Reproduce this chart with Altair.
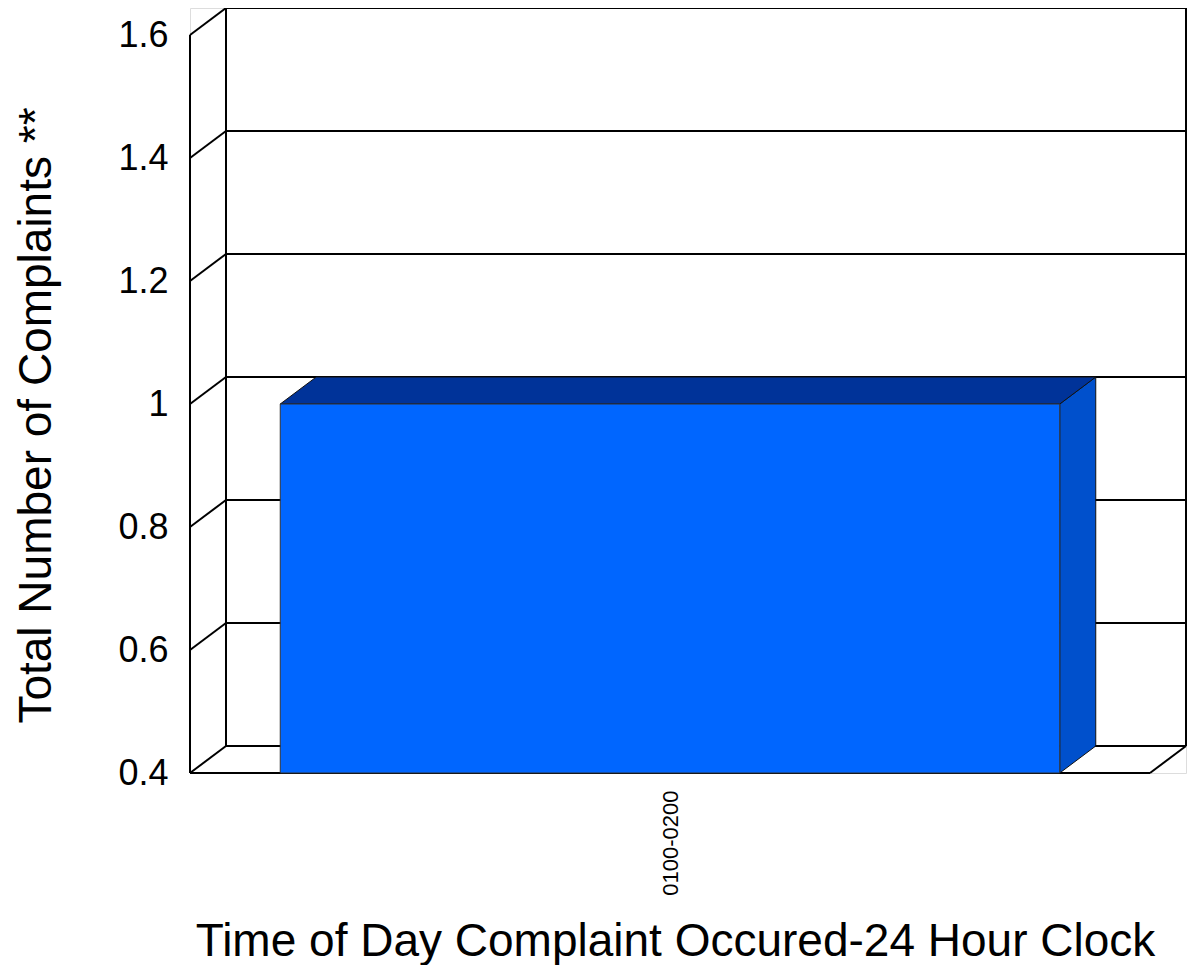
import json
import altair as alt
import pandas as pd

# ---- data ----
categories = ["0100-0200"]
values = [1]
y_ticks = [0.4, 0.6, 0.8, 1.0, 1.2, 1.4, 1.6]

# ---- layout / style ----
Y_MIN, Y_MAX = 0.4, 1.6
FRONT_W, FRONT_H = 960, 738      # front plane size in px
DEPTH_X, DEPTH_Y = 36, 27        # 3D depth offset in px
BAR_PAD = 0.094                  # band padding fraction on each side
FONT = "Liberation Sans"

n = len(categories)
dx = DEPTH_X * n / FRONT_W
dy = DEPTH_Y * (Y_MAX - Y_MIN) / FRONT_H
W = FRONT_W + DEPTH_X
H = FRONT_H + DEPTH_Y

xs = alt.Scale(domain=[0, n + dx], nice=False, zero=False)
ys = alt.Scale(domain=[Y_MIN, Y_MAX + dy], nice=False, zero=False)

x_axis = alt.Axis(
    values=[i + 0.5 for i in range(n)],
    labelExpr=f"{json.dumps(categories)}[floor(datum.value)]",
    labelAngle=270, labelAlign="right", labelBaseline="middle",
    labelPadding=17, labelFontSize=22, labelFont=FONT, labelColor="black",
    labelOverlap=False, labelFlush=False,
    ticks=False, domain=False, grid=False,
    title="Time of Day Complaint Occured-24 Hour Clock",
    titleFontSize=46, titleFontWeight="normal", titleFont=FONT, titleColor="black",
    titleX=485, titleY=182, titleAlign="center", titleBaseline="alphabetic",
)
y_axis = alt.Axis(
    values=y_ticks,
    labelExpr="format(datum.value, '.1~f')",
    labelFontSize=36, labelFont=FONT, labelColor="black", labelPadding=22,
    labelOverlap=False, labelFlush=False,
    ticks=False, domain=False, grid=False,
    title="Total Number of Complaints **",
    titleFontSize=46, titleFontWeight="normal", titleFont=FONT, titleColor="black",
    titleX=-140, titleY=407, titleAlign="center", titleBaseline="alphabetic",
    titleAngle=270,
)


def X(f):
    return alt.X(f, type="quantitative", scale=xs, axis=x_axis)


def Y(f):
    return alt.Y(f, type="quantitative", scale=ys, axis=y_axis)


# ---- frame (walls + floor) ----
rows = []
for v in y_ticks:
    rows.append(dict(x=dx, x2=n + dx, y=v + dy, y2=v + dy))   # back wall grid
    rows.append(dict(x=0, x2=dx, y=v, y2=v + dy))             # side wall diagonals
rows.append(dict(x=dx, x2=dx, y=Y_MIN + dy, y2=Y_MAX + dy))
rows.append(dict(x=n + dx, x2=n + dx, y=Y_MIN + dy, y2=Y_MAX + dy))
rows.append(dict(x=0, x2=0, y=Y_MIN, y2=Y_MAX))
rows.append(dict(x=0, x2=n, y=Y_MIN, y2=Y_MIN))
rows.append(dict(x=n, x2=n + dx, y=Y_MIN, y2=Y_MIN + dy))
frame_df = pd.DataFrame(rows)

frame = alt.Chart(frame_df).mark_rule(color="black", strokeWidth=2).encode(
    x=X("x"), x2=alt.X2("x2"), y=Y("y"), y2=alt.Y2("y2")
)

# ---- bars ----
front_rows, top_rows, side_rows = [], [], []
for i, (c, v) in enumerate(zip(categories, values)):
    x0, x1 = i + BAR_PAD, i + 1 - BAR_PAD
    front_rows.append(dict(cat=c, x0=x0, x1=x1, y0=Y_MIN, y1=v))
    top_rows += [
        dict(cat=c, x=x0, y=v, y2=v),
        dict(cat=c, x=x0 + dx, y=v + dy, y2=v),
        dict(cat=c, x=x1, y=v + dy, y2=v),
        dict(cat=c, x=x1 + dx, y=v + dy, y2=v + dy),
    ]
    side_rows += [
        dict(cat=c, x=x1, y=v, y2=Y_MIN),
        dict(cat=c, x=x1 + dx, y=v + dy, y2=Y_MIN + dy),
    ]

front = alt.Chart(pd.DataFrame(front_rows)).mark_rect(
    color="#0066FF", stroke="#333333", strokeWidth=1
).encode(x=X("x0"), x2=alt.X2("x1"), y=Y("y0"), y2=alt.Y2("y1"))

top = alt.Chart(pd.DataFrame(top_rows)).mark_area(
    color="#003399", stroke="#111111", strokeWidth=1, opacity=1
).encode(x=X("x"), y=Y("y"), y2=alt.Y2("y2"), detail="cat:N")

side = alt.Chart(pd.DataFrame(side_rows)).mark_area(
    color="#0050CC", stroke="#111111", strokeWidth=1, opacity=1
).encode(x=X("x"), y=Y("y"), y2=alt.Y2("y2"), detail="cat:N")

chart = alt.layer(frame, side, top, front).properties(
    width=W, height=H,
    autosize=alt.AutoSizeParams(type="none"),
    padding={"left": 182, "top": 0, "right": 1, "bottom": 192},
).configure_view(stroke=None).configure(background="white")

chart.save("out.html", embed_options={"renderer": "svg", "actions": False})
